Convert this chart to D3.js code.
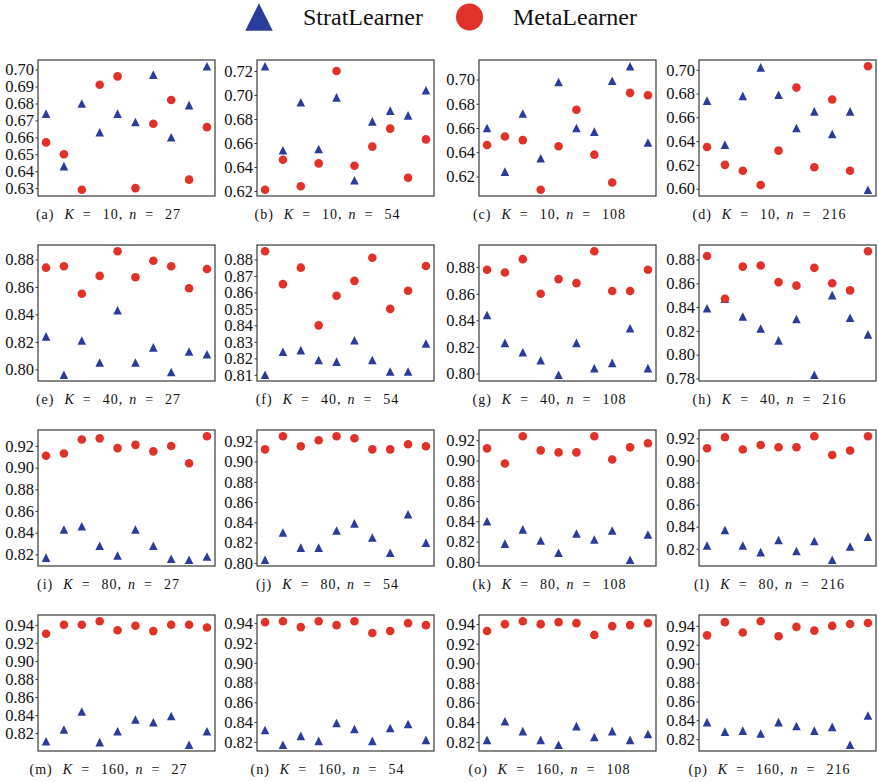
<!DOCTYPE html>
<html>
<head>
<meta charset="utf-8">
<script src="https://cdn.jsdelivr.net/npm/d3@7.9.0/dist/d3.min.js"></script>
<style>
  body { margin: 0; background: #fff; }
  svg { display: block; }
  text { font-family: "Liberation Serif", "DejaVu Serif", serif; fill: #111; }
</style>
</head>
<body>
<script>
// panel grid: rows are K, columns are n
const kValues = [10, 40, 80, 160];
const nValues = [27, 54, 108, 216];
const panelLetters = 'abcdefghijklmnop'.split('');

// y tick spacing used by each panel
const yTickStep = [0.01, 0.02, 0.02, 0.02,
                   0.02, 0.01, 0.02, 0.02,
                   0.02, 0.02, 0.02, 0.02,
                   0.02, 0.02, 0.02, 0.02];

// StratLearner accuracy, 10 runs per panel
const stratAcc = [
  [0.674, 0.643, 0.680, 0.663, 0.674, 0.669, 0.697, 0.660, 0.679, 0.702],
  [0.724, 0.654, 0.694, 0.655, 0.698, 0.629, 0.678, 0.687, 0.683, 0.704],
  [0.660, 0.624, 0.672, 0.635, 0.698, 0.660, 0.657, 0.699, 0.711, 0.648],
  [0.674, 0.637, 0.678, 0.702, 0.679, 0.651, 0.665, 0.646, 0.665, 0.599],
  [0.824, 0.796, 0.821, 0.805, 0.843, 0.805, 0.816, 0.798, 0.813, 0.811],
  [0.810, 0.824, 0.825, 0.819, 0.818, 0.831, 0.819, 0.812, 0.812, 0.829],
  [0.844, 0.823, 0.816, 0.810, 0.799, 0.823, 0.804, 0.808, 0.834, 0.804],
  [0.839, 0.847, 0.832, 0.822, 0.812, 0.830, 0.783, 0.850, 0.831, 0.817],
  [0.817, 0.843, 0.846, 0.828, 0.819, 0.843, 0.828, 0.816, 0.815, 0.818],
  [0.803, 0.830, 0.815, 0.815, 0.832, 0.839, 0.825, 0.810, 0.848, 0.820],
  [0.840, 0.818, 0.832, 0.821, 0.809, 0.828, 0.822, 0.831, 0.802, 0.827],
  [0.823, 0.837, 0.823, 0.817, 0.828, 0.818, 0.827, 0.810, 0.822, 0.831],
  [0.811, 0.824, 0.844, 0.810, 0.822, 0.835, 0.832, 0.839, 0.807, 0.822],
  [0.832, 0.817, 0.826, 0.821, 0.839, 0.833, 0.821, 0.834, 0.838, 0.822],
  [0.822, 0.841, 0.831, 0.822, 0.817, 0.836, 0.825, 0.831, 0.822, 0.828],
  [0.838, 0.828, 0.829, 0.826, 0.838, 0.834, 0.829, 0.833, 0.814, 0.845]
];

// MetaLearner accuracy, 10 runs per panel
const metaAcc = [
  [0.657, 0.650, 0.629, 0.691, 0.696, 0.630, 0.668, 0.682, 0.635, 0.666],
  [0.621, 0.646, 0.624, 0.643, 0.720, 0.641, 0.657, 0.672, 0.631, 0.663],
  [0.646, 0.653, 0.650, 0.609, 0.645, 0.675, 0.638, 0.615, 0.689, 0.687],
  [0.635, 0.620, 0.615, 0.603, 0.632, 0.685, 0.618, 0.675, 0.615, 0.703],
  [0.874, 0.875, 0.855, 0.868, 0.886, 0.867, 0.879, 0.875, 0.859, 0.873],
  [0.885, 0.865, 0.875, 0.840, 0.858, 0.867, 0.881, 0.850, 0.861, 0.876],
  [0.878, 0.876, 0.886, 0.860, 0.871, 0.868, 0.892, 0.862, 0.862, 0.878],
  [0.883, 0.847, 0.874, 0.875, 0.861, 0.858, 0.873, 0.860, 0.854, 0.887],
  [0.911, 0.913, 0.926, 0.927, 0.918, 0.921, 0.915, 0.920, 0.904, 0.929],
  [0.912, 0.925, 0.915, 0.921, 0.925, 0.923, 0.912, 0.912, 0.917, 0.915],
  [0.912, 0.897, 0.924, 0.910, 0.908, 0.908, 0.924, 0.901, 0.913, 0.917],
  [0.911, 0.921, 0.910, 0.914, 0.912, 0.912, 0.922, 0.905, 0.909, 0.922],
  [0.930, 0.940, 0.940, 0.944, 0.934, 0.939, 0.933, 0.940, 0.940, 0.937],
  [0.941, 0.942, 0.936, 0.942, 0.938, 0.942, 0.930, 0.932, 0.940, 0.938],
  [0.933, 0.940, 0.943, 0.940, 0.942, 0.941, 0.929, 0.938, 0.939, 0.941],
  [0.930, 0.944, 0.933, 0.945, 0.929, 0.939, 0.935, 0.940, 0.942, 0.943]
];

const BLUE = '#2b3d9c';
const RED = '#e1322a';
const SERIF = '"Liberation Serif", "DejaVu Serif", serif';

const colLeft = [38, 257, 479, 699];
const rowTop = [60, 245, 430, 615];
const panelW = 177, panelH = 136;

// matplotlib style "^" marker: as wide as it is tall, centred on its box
const triangleUp = {
  draw(context, size) {
    const h = Math.sqrt(size);
    context.moveTo(0, -h / 2);
    context.lineTo(h / 2, h / 2);
    context.lineTo(-h / 2, h / 2);
    context.closePath();
  }
};

const svg = d3.select('body').append('svg')
  .attr('width', 879)
  .attr('height', 782)
  .attr('font-family', SERIF);

// legend
const legend = svg.append('g');
legend.append('path')
  .attr('d', d3.symbol().type(triangleUp).size(27.5 * 27.5)())
  .attr('transform', 'translate(259,17)')
  .attr('fill', BLUE);
legend.append('text').attr('x', 303).attr('y', 25)
  .style('font-size', '24px').text('StratLearner');
legend.append('circle').attr('cx', 469.5).attr('cy', 17).attr('r', 13.5).attr('fill', RED);
legend.append('text').attr('x', 513).attr('y', 25)
  .style('font-size', '24px').text('MetaLearner');

kValues.forEach((K, r) => {
  nValues.forEach((n, c) => {
    const i = r * 4 + c;
    const left = colLeft[c], top = rowTop[r];
    const g = svg.append('g');

    const x = d3.scaleLinear().domain([-0.45, 9.45]).range([left, left + panelW]);

    const all = stratAcc[i].concat(metaAcc[i]);
    const [lo, hi] = d3.extent(all);
    const pad = (hi - lo) * 0.05;
    const y = d3.scaleLinear().domain([lo - pad, hi + pad]).range([top + panelH, top]);

    const step = yTickStep[i];
    const first = Math.ceil((lo - pad) / step - 1e-9);
    const last = Math.floor((hi + pad) / step + 1e-9);
    const ticks = d3.range(first, last + 1).map(k => +(k * step).toFixed(2));

    const axis = g.append('g')
      .attr('transform', `translate(${left},0)`)
      .call(d3.axisLeft(y).tickValues(ticks).tickSize(2.5).tickPadding(1.5)
        .tickFormat(d3.format('.2f')))
      .attr('font-family', SERIF)
      .attr('font-size', 16.5);
    axis.select('.domain').remove();
    axis.selectAll('.tick line').attr('stroke', '#333');
    axis.selectAll('.tick text')
      .style('font-family', SERIF)
      .attr('fill', '#111');

    g.append('rect')
      .attr('x', left).attr('y', top)
      .attr('width', panelW).attr('height', panelH)
      .attr('fill', 'none').attr('stroke', '#3a3a3a').attr('stroke-width', 1.2);

    const idx = d3.range(10);

    g.selectAll('path.strat').data(idx).join('path')
      .attr('class', 'strat')
      .attr('d', d3.symbol().type(triangleUp).size(8.6 * 8.6)())
      .attr('transform', d => `translate(${x(d)},${y(stratAcc[i][d])})`)
      .attr('fill', BLUE);

    g.selectAll('circle.meta').data(idx).join('circle')
      .attr('class', 'meta')
      .attr('cx', d => x(d))
      .attr('cy', d => y(metaAcc[i][d]))
      .attr('r', 4.3)
      .attr('fill', RED);

    // caption, e.g. (a) K = 10, n = 27, spaced like the LaTeX original
    const cap = g.append('text')
      .attr('x', left + panelW / 2 - 18)
      .attr('y', top + 159)
      .attr('text-anchor', 'middle')
      .style('font-family', SERIF)
      .style('font-size', '14px')
      .style('letter-spacing', '1px');
    const parts = [
      [`(${panelLetters[i]})`, 0, false],
      ['K', 10, true],
      ['=', 8, false],
      [`${K},`, 11, false],
      ['n', 6, true],
      ['=', 8, false],
      [`${n}`, 11, false]
    ];
    parts.forEach(([t, dx, it]) => {
      cap.append('tspan')
        .attr('dx', dx)
        .style('font-style', it ? 'italic' : 'normal')
        .text(t);
    });
  });
});
</script>
</body>
</html>
